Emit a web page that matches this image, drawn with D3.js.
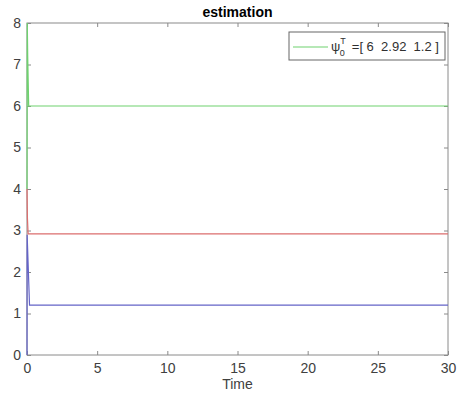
<!DOCTYPE html>
<html>
<head>
<meta charset="utf-8">
<script src="https://cdn.jsdelivr.net/npm/d3@7"></script>
<style>
  body { margin: 0; background: #fff; }
  text { font-family: "Liberation Sans", Arial, sans-serif; }
</style>
</head>
<body>
<div id="chart"></div>
<script>
// estimates over time (t, value)
var timeGreen = [0, 0.02, 0.05, 0.12, 30];
var valGreen  = [4, 8, 7.2, 6, 6];
var timeRed   = [0, 0.03, 0.08, 30];
var valRed    = [4, 3.3, 2.92, 2.92];
var timeBlue  = [0, 0.01, 0.18, 30];
var valBlue   = [0, 2.9, 1.2, 1.2];
var xTicks = [0, 5, 10, 15, 20, 25, 30];
var yTicks = [0, 1, 2, 3, 4, 5, 6, 7, 8];

var margin = { top: 23, right: 11, bottom: 39, left: 27 },
    width = 459 - margin.left - margin.right,
    height = 394 - margin.top - margin.bottom;

var svg = d3.select("#chart")
  .append("svg")
    .attr("width", 459)
    .attr("height", 394)
  .append("g")
    .attr("transform", `translate(${margin.left},${margin.top})`);

var x = d3.scaleLinear().domain([0, 30]).range([0, width]);
var y = d3.scaleLinear().domain([0, 8]).range([height, 0]);

var axisColor = "#8a8a8a";

// Box
svg.append("rect")
  .attr("width", width).attr("height", height)
  .attr("fill", "none").attr("stroke", axisColor).attr("stroke-width", 1);

function styleAxis(g, hideText) {
  g.select(".domain").remove();
  g.selectAll(".tick line").attr("stroke", axisColor);
  g.selectAll(".tick text").attr("fill", "#404040").style("font-size", "14px");
  if (hideText) g.selectAll(".tick text").remove();
}

svg.append("g")
  .attr("transform", `translate(0,${height})`)
  .call(d3.axisBottom(x).tickValues(xTicks).tickSizeInner(-4).tickSizeOuter(0).tickPadding(8))
  .call(g => styleAxis(g, false));
svg.append("g")
  .call(d3.axisTop(x).tickValues(xTicks).tickSizeInner(-4).tickSizeOuter(0))
  .call(g => styleAxis(g, true));
svg.append("g")
  .call(d3.axisLeft(y).tickValues(yTicks).tickSizeInner(-4).tickSizeOuter(0).tickPadding(6))
  .call(g => styleAxis(g, false));
svg.append("g")
  .attr("transform", `translate(${width},0)`)
  .call(d3.axisRight(y).tickValues(yTicks).tickSizeInner(-4).tickSizeOuter(0))
  .call(g => styleAxis(g, true));

var line = d3.line().x(d => x(d[0])).y(d => y(d[1]));

function series(t, v, color) {
  svg.append("path")
    .datum(t.map((d, i) => [d, v[i]]))
    .attr("fill", "none")
    .attr("stroke", color)
    .attr("stroke-width", 1.2)
    .attr("d", line);
}
series(timeBlue, valBlue, "#6464c8");
series(timeRed, valRed, "#dc6e6e");
series(timeGreen, valGreen, "#6fd26f");

// Title and label
svg.append("text")
  .attr("x", width / 2).attr("y", -6)
  .attr("text-anchor", "middle")
  .style("font-size", "14px").style("font-weight", "bold")
  .text("estimation");
svg.append("text")
  .attr("x", width / 2).attr("y", height + 34)
  .attr("text-anchor", "middle")
  .attr("fill", "#404040")
  .style("font-size", "14px")
  .text("Time");

// Legend
var lg = svg.append("g").attr("transform", `translate(${289 - margin.left},${32 - margin.top})`);
lg.append("rect")
  .attr("width", 156).attr("height", 28)
  .attr("fill", "#fff").attr("stroke", "#666").attr("stroke-width", 1);
lg.append("line")
  .attr("x1", 4).attr("x2", 39).attr("y1", 15).attr("y2", 15)
  .attr("stroke", "#6fd26f").attr("stroke-width", 1.2);
var lt = lg.append("text").attr("x", 42).attr("y", 19).attr("fill", "#303030").style("font-size", "13px");
lt.append("tspan").text("ψ");
lt.append("tspan").attr("dy", -7).style("font-size", "9px").text("T");
lt.append("tspan").attr("dx", -6).attr("dy", 12).style("font-size", "9px").text("0");
lt.append("tspan").attr("dx", 7).attr("dy", -5).attr("xml:space", "preserve").text("=[ 6  2.92  1.2 ]");
</script>
</body>
</html>
